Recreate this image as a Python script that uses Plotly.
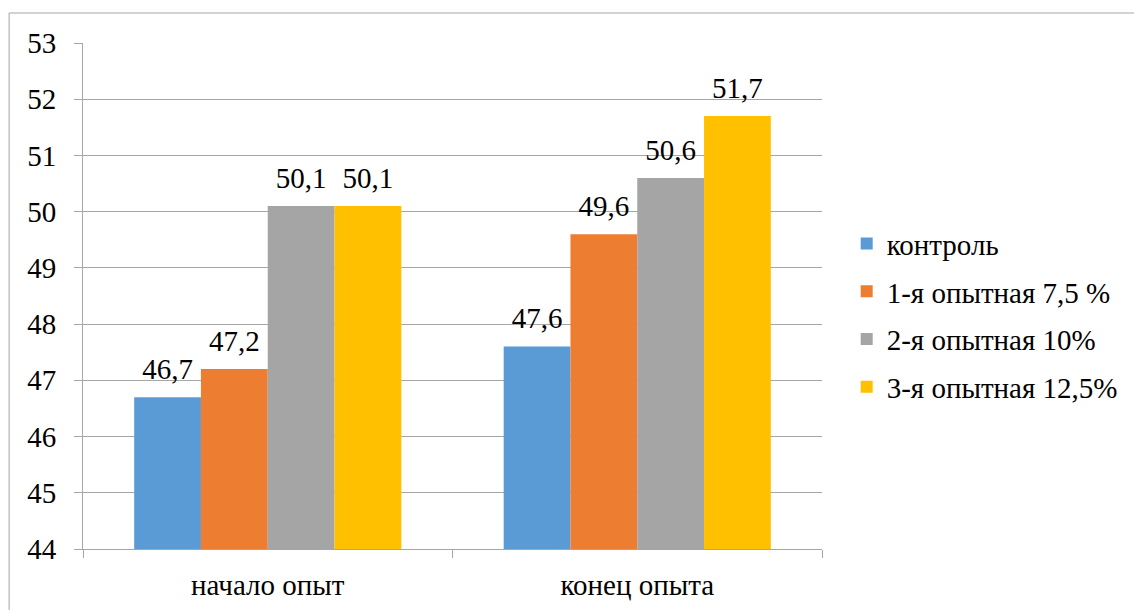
import plotly.graph_objects as go

# Live weight by group at the start and end of the trial
categories = ["начало опыт", "конец опыта"]
series_names = ["контроль", "1-я опытная 7,5 %", "2-я опытная 10%", "3-я опытная 12,5%"]
series_values = [
    [46.7, 47.6],
    [47.2, 49.6],
    [50.1, 50.6],
    [50.1, 51.7],
]
series_colors = ["#5b9bd5", "#ed7d31", "#a5a5a5", "#ffc000"]
y_ticks = [44, 45, 46, 47, 48, 49, 50, 51, 52, 53]

FONT = "Liberation Serif, Times New Roman, serif"
FS = 29
GRID = "#a6a6a6"

fig = go.Figure()

for i, (name, vals, color) in enumerate(zip(series_names, series_values, series_colors)):
    fig.add_trace(go.Bar(
        x=categories, y=vals, name=name,
        marker=dict(color=color, line=dict(width=0)),
        offsetgroup=str(i), legendgroup=str(i),
    ))

# Value labels, offset in groups the same way as the bars
for i, vals in enumerate(series_values):
    fig.add_trace(go.Scatter(
        x=categories, y=vals, mode="markers+text",
        marker=dict(size=16, color="rgba(0,0,0,0)"),
        text=[f"{v:.1f}".replace(".", ",") for v in vals],
        textposition="top center",
        textfont=dict(family=FONT, size=FS, color="#000000"),
        offsetgroup=str(i), showlegend=False, hoverinfo="skip",
        cliponaxis=False,
    ))

fig.update_layout(
    width=1134, height=610,
    margin=dict(l=83, r=311, t=43, b=61),
    paper_bgcolor="white", plot_bgcolor="white",
    barmode="group", bargap=0.277, bargroupgap=0,
    scattermode="group", scattergap=0.277,
    font=dict(family=FONT, size=FS, color="#000000"),
    legend=dict(
        x=1.032, xanchor="left", y=0.462, yanchor="middle",
        font=dict(family=FONT, size=FS, color="#000000"),
        tracegroupgap=7, bgcolor="rgba(0,0,0,0)",
    ),
    showlegend=True,
)

fig.update_yaxes(
    range=[44, 53], tickvals=y_ticks, automargin=False,
    showgrid=True, gridcolor=GRID, gridwidth=1,
    showline=True, linecolor=GRID, linewidth=1,
    ticks="outside", ticklen=8, tickcolor=GRID,
    ticklabelstandoff=12, zeroline=False,
    tickfont=dict(family=FONT, size=FS, color="#000000"),
)
fig.update_xaxes(
    type="category", automargin=False,
    showline=True, linecolor=GRID, linewidth=1,
    ticks="outside", ticklen=8, tickcolor=GRID, tickson="boundaries",
    ticklabelstandoff=10,
    tickfont=dict(family=FONT, size=FS, color="#000000"),
)

# Chart frame
fig.add_shape(
    type="rect", xref="paper", yref="paper",
    x0=-0.1, x1=1.6, y0=-0.3, y1=1.0593,
    line=dict(color="#a6a6a6", width=1), fillcolor="rgba(0,0,0,0)",
    layer="below",
)

fig.write_html("out.html")
